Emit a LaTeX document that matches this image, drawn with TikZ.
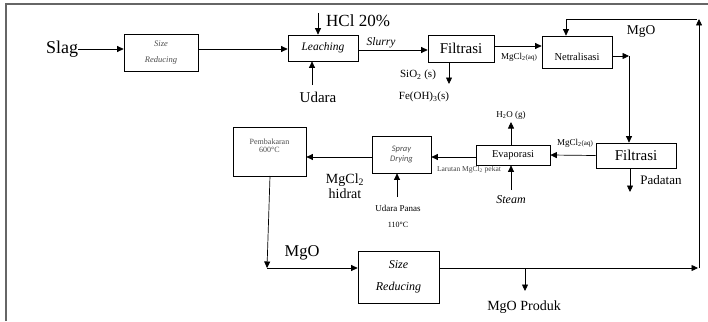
\documentclass[tikz,border=0pt]{standalone}
\usepackage{fontspec}
\setmainfont{Liberation Serif}
\newfontfamily\calibfont{Carlito}
\usetikzlibrary{arrows.meta}
\newcommand{\fs}[2]{\fontsize{#1}{#2}\selectfont}
\begin{document}
\begin{tikzpicture}[x=1pt,y=-1pt,
  box/.style={draw, line width=0.7pt, inner sep=0pt, align=center},
  arr/.style={line width=0.7pt, -{Triangle[length=6.5pt,width=6pt]}},
  lbl/.style={inner sep=0pt, align=center},
  small/.style={lbl, text=black!75}]
\useasboundingbox (0,0) rectangle (708,321);
% frame
\draw[draw=black!60, line width=1.6pt] (6,321) -- (6,4) -- (708,4);

% boxes
\node[box, minimum width=74pt, minimum height=37pt, text=black!70, font=\fs{8.5}{16}\itshape] (sr1) at (161,52.5) {Size\\Reducing};
\node[box, minimum width=70pt, minimum height=26pt, font=\fs{11.5}{13}\itshape] (leach) at (323,48) {Leaching};
\node[box, minimum width=66pt, minimum height=27pt, font=\fs{15}{17}] (filt1) at (461,48.5) {Filtrasi};
\node[box, minimum width=70pt, minimum height=32pt, font=\fs{10.5}{12}] (netr) at (577,52) {\raisebox{-9pt}[0pt][0pt]{Netralisasi}};
\node[box, minimum width=80pt, minimum height=25pt, font=\fs{15}{17}] (filt2) at (636,155.5) {Filtrasi};
\node[box, minimum width=74pt, minimum height=20pt, font=\fs{10.5}{12}] (evap) at (513,155) {Evaporasi};
\node[box, minimum width=59pt, minimum height=37pt, text=black!70, font=\calibfont\fs{8.5}{10}\itshape] (spray) at (401.5,154.5) {Spray\\Drying};
\node[box, minimum width=73pt, minimum height=49pt, text=black!70, font=\fs{8}{8.5}] (pemb) at (269.5,151.5) {\raisebox{3pt}[0pt][0pt]{Pembakaran}\\\raisebox{3pt}[0pt][0pt]{600°C}};
\node[box, minimum width=81pt, minimum height=52pt, font=\fs{12}{22}\itshape] (sr2) at (398.5,277) {Size\\Reducing};

% text labels
\node[lbl, font=\fs{18}{20}] (slag) at (62,49) {Slag};
\node[lbl, anchor=west, font=\fs{17}{19}] (hcl) at (326,21) {HCl 20\%};
\node[lbl, font=\fs{15}{17}] (udara) at (318,97) {Udara};
\node[lbl, font=\fs{11}{13}] (sio) at (418,75) {SiO\textsubscript{2} (s)};
\node[lbl, font=\fs{11}{13}] (feoh) at (424,97) {Fe(OH)\textsubscript{3}(s)};
\node[lbl, font=\fs{13.5}{15}] (mgotop) at (641,31) {MgO};
\node[lbl, font=\fs{13}{15}] (padatan) at (661,180) {Padatan};
\node[lbl, font=\fs{9}{11}] (mgcl1) at (519,57) {MgCl\textsubscript{2}{\fs{7}{9}(aq)}};
\node[lbl, font=\fs{9}{11}] (mgcl2) at (575,143) {MgCl\textsubscript{2}{\fs{7}{9}(aq)}};
\node[lbl, font=\fs{9}{11}] (hto) at (511,115) {H\textsubscript{2}O (g)};
\node[lbl, font=\fs{12}{14}\itshape] (steam) at (511,200) {Steam};
\node[small, font=\fs{7.5}{9}] (larutan) at (469,170) {Larutan MgCl\textsubscript{2} pekat};
\node[lbl, font=\fs{9}{11}] (udpanas) at (398,208) {Udara Panas};
\node[lbl, font=\fs{8}{10}] (suhu) at (398,225) {110°C};
\node[lbl, font=\fs{14}{15.5}] (hidrat) at (345,186) {MgCl\textsubscript{2}\\hidrat};
\node[lbl, font=\fs{16.5}{18}] (mgobot) at (302,253) {MgO};
\node[lbl, font=\fs{14}{16}] (produk) at (524,307) {MgO Produk};
\node[lbl, font=\fs{11.5}{13}\itshape] (slurry) at (381,43) {Slurry};

% coordinates
\coordinate (hcltop) at (318,13);
\coordinate (udbase) at (312,85);
\coordinate (sioc) at (449,62);
\coordinate (netrc) at (629,56);
\coordinate (padc) at (630,168);
\coordinate (h2oc) at (511,122);
\coordinate (steamc) at (511,190);
\coordinate (udpc) at (397,197);
\coordinate (pembc) at (270,176);
\coordinate (corner) at (267,268);
\coordinate (prodc) at (525,268);
\coordinate (rightb) at (699,268);
\coordinate (rightt) at (699,19);
\coordinate (topl) at (566,19);

% connectors
\draw[arr] (slag.east) -- (slag.east -| sr1.west);
\draw[arr] (sr1.east |- 0,49) -- (leach.west |- 0,49);
\draw[arr] (hcltop) -- (hcltop |- leach.north);
\draw[arr] (udbase) -- (udbase |- leach.south);
\draw[arr] (leach.east |- 0,50) -- (filt1.west |- 0,50);
\draw[arr] (sioc) -- ++(0,22);
\draw[arr] (filt1.east |- 0,46) -- (netr.west |- 0,46);
\draw[arr] (netr.east |- netrc) -- (netrc);
\draw[arr] (netrc) -- (netrc |- filt2.north);
\draw[arr] (padc) -- ++(0,24);
\draw[arr] (filt2.west) -- (evap.east);
\draw[arr] (evap.north -| h2oc) -- (h2oc);
\draw[arr] (steamc) -- (steamc |- evap.south);
\draw[arr] (evap.west |- 0,157) -- (spray.east |- 0,157);
\draw[arr] (udpc) -- (udpc |- spray.south);
\draw[arr] (spray.west |- 0,157) -- (pemb.east |- 0,157);
\draw[arr] (pembc) -- (corner);
\draw[arr] (corner) -- (sr2.west |- corner);
\draw[arr] (sr2.east |- corner) -- (698,268);
\draw[arr] (prodc) -- ++(0,23);
\draw[arr] (rightb) -- (rightt);
\draw[arr] (697,19) -- (topl) -- (topl |- netr.north);
\end{tikzpicture}
\end{document}
